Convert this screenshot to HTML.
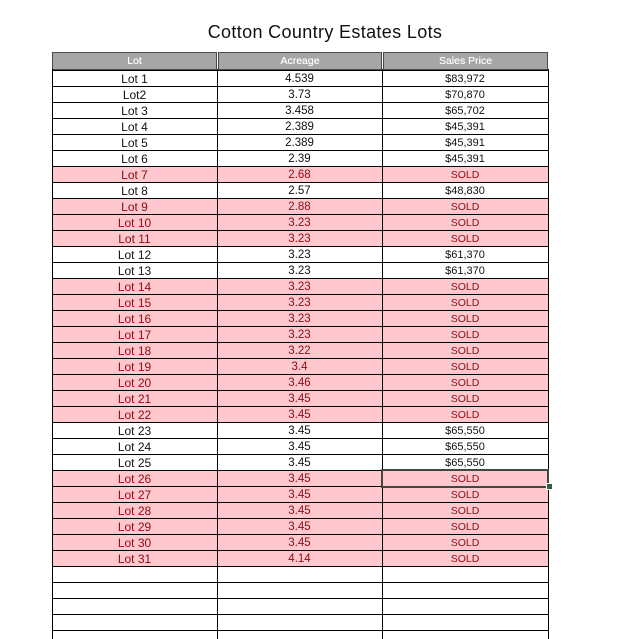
<!DOCTYPE html>
<html><head><meta charset="utf-8"><style>
html,body{margin:0;padding:0;background:#fff;}
body{width:618px;height:639px;position:relative;overflow:hidden;font-family:"Liberation Sans",Arial,sans-serif;}
.t{position:absolute;left:197px;width:256px;top:21px;height:22px;line-height:22px;font-size:18px;letter-spacing:0.35px;text-align:center;white-space:nowrap;color:#111;}
.h{position:absolute;top:52px;height:16px;background:#a6a6a6;border:1px solid #4a4a4a;color:#fff;font-size:10.5px;line-height:16px;text-align:center;box-sizing:content-box;text-shadow:0 0 0.4px #fff;}
.row{position:absolute;left:52px;width:497px;height:16px;color:#111;}
.row.p{background:#ffc7ce;color:#8a0d10;}
.c{position:absolute;top:0;height:16px;line-height:16px;text-align:center;white-space:nowrap;}
.c1{left:0;width:165px;font-size:12px;}
.c2{left:165px;width:165px;font-size:11.5px;}
.c3{left:330px;width:166px;font-size:11px;}
.s{font-size:10.5px;}
.hl{position:absolute;left:52px;width:497px;height:1px;background:#000;}
.vl{position:absolute;top:69px;width:1px;height:570px;background:#000;}
</style></head><body>
<div class="t">Cotton Country Estates Lots</div>
<div class="h" style="left:52px;width:163px;">Lot</div>
<div class="h" style="left:218px;width:162px;">Acreage</div>
<div class="h" style="left:383px;width:163px;">Sales Price</div>

<div class="row" style="top:71px"><div class="c c1">Lot 1</div><div class="c c2">4.539</div><div class="c c3">$83,972</div></div>
<div class="row" style="top:87px"><div class="c c1">Lot2</div><div class="c c2">3.73</div><div class="c c3">$70,870</div></div>
<div class="row" style="top:103px"><div class="c c1">Lot 3</div><div class="c c2">3.458</div><div class="c c3">$65,702</div></div>
<div class="row" style="top:119px"><div class="c c1">Lot 4</div><div class="c c2">2.389</div><div class="c c3">$45,391</div></div>
<div class="row" style="top:135px"><div class="c c1">Lot 5</div><div class="c c2">2.389</div><div class="c c3">$45,391</div></div>
<div class="row" style="top:151px"><div class="c c1">Lot 6</div><div class="c c2">2.39</div><div class="c c3">$45,391</div></div>
<div class="row p" style="top:167px"><div class="c c1">Lot 7</div><div class="c c2">2.68</div><div class="c c3 s">SOLD</div></div>
<div class="row" style="top:183px"><div class="c c1">Lot 8</div><div class="c c2">2.57</div><div class="c c3">$48,830</div></div>
<div class="row p" style="top:199px"><div class="c c1">Lot 9</div><div class="c c2">2.88</div><div class="c c3 s">SOLD</div></div>
<div class="row p" style="top:215px"><div class="c c1">Lot 10</div><div class="c c2">3.23</div><div class="c c3 s">SOLD</div></div>
<div class="row p" style="top:231px"><div class="c c1">Lot 11</div><div class="c c2">3.23</div><div class="c c3 s">SOLD</div></div>
<div class="row" style="top:247px"><div class="c c1">Lot 12</div><div class="c c2">3.23</div><div class="c c3">$61,370</div></div>
<div class="row" style="top:263px"><div class="c c1">Lot 13</div><div class="c c2">3.23</div><div class="c c3">$61,370</div></div>
<div class="row p" style="top:279px"><div class="c c1">Lot 14</div><div class="c c2">3.23</div><div class="c c3 s">SOLD</div></div>
<div class="row p" style="top:295px"><div class="c c1">Lot 15</div><div class="c c2">3.23</div><div class="c c3 s">SOLD</div></div>
<div class="row p" style="top:311px"><div class="c c1">Lot 16</div><div class="c c2">3.23</div><div class="c c3 s">SOLD</div></div>
<div class="row p" style="top:327px"><div class="c c1">Lot 17</div><div class="c c2">3.23</div><div class="c c3 s">SOLD</div></div>
<div class="row p" style="top:343px"><div class="c c1">Lot 18</div><div class="c c2">3.22</div><div class="c c3 s">SOLD</div></div>
<div class="row p" style="top:359px"><div class="c c1">Lot 19</div><div class="c c2">3.4</div><div class="c c3 s">SOLD</div></div>
<div class="row p" style="top:375px"><div class="c c1">Lot 20</div><div class="c c2">3.46</div><div class="c c3 s">SOLD</div></div>
<div class="row p" style="top:391px"><div class="c c1">Lot 21</div><div class="c c2">3.45</div><div class="c c3 s">SOLD</div></div>
<div class="row p" style="top:407px"><div class="c c1">Lot 22</div><div class="c c2">3.45</div><div class="c c3 s">SOLD</div></div>
<div class="row" style="top:423px"><div class="c c1">Lot 23</div><div class="c c2">3.45</div><div class="c c3">$65,550</div></div>
<div class="row" style="top:439px"><div class="c c1">Lot 24</div><div class="c c2">3.45</div><div class="c c3">$65,550</div></div>
<div class="row" style="top:455px"><div class="c c1">Lot 25</div><div class="c c2">3.45</div><div class="c c3">$65,550</div></div>
<div class="row p" style="top:471px"><div class="c c1">Lot 26</div><div class="c c2">3.45</div><div class="c c3 s">SOLD</div></div>
<div class="row p" style="top:487px"><div class="c c1">Lot 27</div><div class="c c2">3.45</div><div class="c c3 s">SOLD</div></div>
<div class="row p" style="top:503px"><div class="c c1">Lot 28</div><div class="c c2">3.45</div><div class="c c3 s">SOLD</div></div>
<div class="row p" style="top:519px"><div class="c c1">Lot 29</div><div class="c c2">3.45</div><div class="c c3 s">SOLD</div></div>
<div class="row p" style="top:535px"><div class="c c1">Lot 30</div><div class="c c2">3.45</div><div class="c c3 s">SOLD</div></div>
<div class="row p" style="top:551px"><div class="c c1">Lot 31</div><div class="c c2">4.14</div><div class="c c3 s">SOLD</div></div>

<div class="hl" style="top:70px"></div><div class="hl" style="top:86px"></div><div class="hl" style="top:102px"></div><div class="hl" style="top:118px"></div>
<div class="hl" style="top:134px"></div><div class="hl" style="top:150px"></div><div class="hl" style="top:166px"></div><div class="hl" style="top:182px"></div>
<div class="hl" style="top:198px"></div><div class="hl" style="top:214px"></div><div class="hl" style="top:230px"></div><div class="hl" style="top:246px"></div>
<div class="hl" style="top:262px"></div><div class="hl" style="top:278px"></div><div class="hl" style="top:294px"></div><div class="hl" style="top:310px"></div>
<div class="hl" style="top:326px"></div><div class="hl" style="top:342px"></div><div class="hl" style="top:358px"></div><div class="hl" style="top:374px"></div>
<div class="hl" style="top:390px"></div><div class="hl" style="top:406px"></div><div class="hl" style="top:422px"></div><div class="hl" style="top:438px"></div>
<div class="hl" style="top:454px"></div><div class="hl" style="top:470px"></div><div class="hl" style="top:486px"></div><div class="hl" style="top:502px"></div>
<div class="hl" style="top:518px"></div><div class="hl" style="top:534px"></div><div class="hl" style="top:550px"></div><div class="hl" style="top:566px"></div>
<div class="hl" style="top:582px"></div><div class="hl" style="top:598px"></div><div class="hl" style="top:614px"></div><div class="hl" style="top:630px"></div>

<div class="vl" style="left:52px"></div>
<div class="vl" style="left:217px"></div>
<div class="vl" style="left:382px"></div>
<div class="vl" style="left:548px"></div>

<div style="position:absolute;left:381px;top:469px;width:164px;height:15px;border:2px solid #3f4a3f;"></div>
<div style="position:absolute;left:546px;top:483px;width:5px;height:5px;background:#2f5e45;border:1px solid #fff;"></div>
</body></html>
